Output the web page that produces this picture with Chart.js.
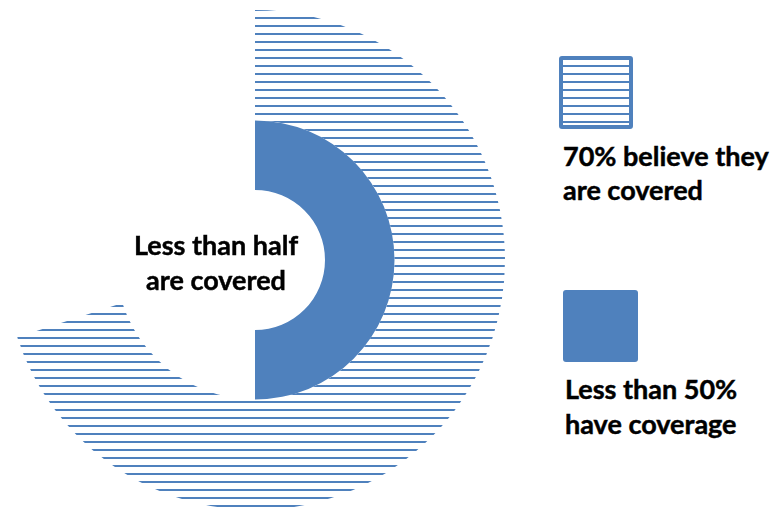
<!DOCTYPE html>
<html>
<head>
<meta charset="utf-8">
<script src="https://cdn.jsdelivr.net/npm/chart.js@4/dist/chart.umd.min.js"></script>
<style>
  html, body { margin: 0; padding: 0; background: #ffffff; }
  body { width: 784px; height: 513px; position: relative; overflow: hidden;
         font-family: Lato, "Open Sans", sans-serif; font-weight: 700; color: #000; }
  #wrap { position: absolute; left: 5px; top: 10px; width: 500px; height: 500px; }
  .txt { position: absolute; font-size: 27px; white-space: nowrap; -webkit-text-stroke: 0.45px #000; }
  #center { left: 116px; width: 200px; text-align: center; top: 227px; line-height: 35px; }
  .box { position: absolute; box-sizing: border-box; border-radius: 3px; }
</style>
</head>
<body>
<div id="wrap"><canvas id="c"></canvas></div>
<div id="center" class="txt"></div>
<div id="legend"></div>
<script>
// ---- data ----
const categories = ['70% believe they are covered', 'Less than 50% have coverage'];
const believeCovered = [70, 30];      // outer ring: covered / remainder
const haveCoverage = [50, 50];        // inner ring: covered / remainder
const legendLines = [['70% believe they', 'are covered'], ['Less than 50%', 'have coverage']];
const centerLines = ['Less than half', 'are covered'];

const BLUE = '#4F81BD';

// horizontal-line hatch pattern (8px period, 2px lines)
function makeHatch() {
  const t = document.createElement('canvas');
  t.width = 8; t.height = 8;
  const g = t.getContext('2d');
  g.fillStyle = BLUE;
  g.fillRect(0, 0, 8, 1);
  g.fillRect(0, 7, 8, 1);
  return g.createPattern(t, 'repeat');
}
const hatch = makeHatch();

new Chart(document.getElementById('c'), {
  type: 'doughnut',
  data: {
    labels: ['covered', 'rest'],
    datasets: [
      { label: categories[0], data: believeCovered, backgroundColor: [hatch, 'rgba(0,0,0,0)'],
        borderWidth: 0, weight: 110.5 },
      { label: categories[1], data: haveCoverage, backgroundColor: [BLUE, 'rgba(0,0,0,0)'],
        borderWidth: 0, weight: 69.5 }
    ]
  },
  options: {
    responsive: true,
    maintainAspectRatio: false,
    animation: false,
    cutout: 70,
    rotation: 0,
    layout: { padding: 0 },
    events: [],
    plugins: { legend: { display: false }, tooltip: { enabled: false } }
  }
});

// center text
document.getElementById('center').innerHTML = centerLines.join('<br>');

// legend
const legend = document.getElementById('legend');
const legendBoxes = [
  { left: 559, top: 56, w: 74, h: 73, hatched: true },
  { left: 563, top: 290, w: 75, h: 72, hatched: false }
];
const legendText = [
  { left: 563, top: 139, lh: 34 },
  { left: 565, top: 371, lh: 35 }
];
legendBoxes.forEach((b, i) => {
  const d = document.createElement('div');
  d.className = 'box';
  d.style.left = b.left + 'px'; d.style.top = b.top + 'px';
  d.style.width = b.w + 'px'; d.style.height = b.h + 'px';
  if (b.hatched) {
    d.style.border = '4px solid ' + BLUE;
    d.style.background = 'repeating-linear-gradient(to bottom, #fff 0px, #fff 5px, ' + BLUE + ' 5px, ' + BLUE + ' 7px, #fff 7px, #fff 8px)';
  } else {
    d.style.background = BLUE;
  }
  legend.appendChild(d);
  const t = document.createElement('div');
  t.className = 'txt';
  t.style.left = legendText[i].left + 'px';
  t.style.top = legendText[i].top + 'px';
  t.style.lineHeight = legendText[i].lh + 'px';
  t.innerHTML = legendLines[i].join('<br>');
  legend.appendChild(t);
});
</script>
</body>
</html>
